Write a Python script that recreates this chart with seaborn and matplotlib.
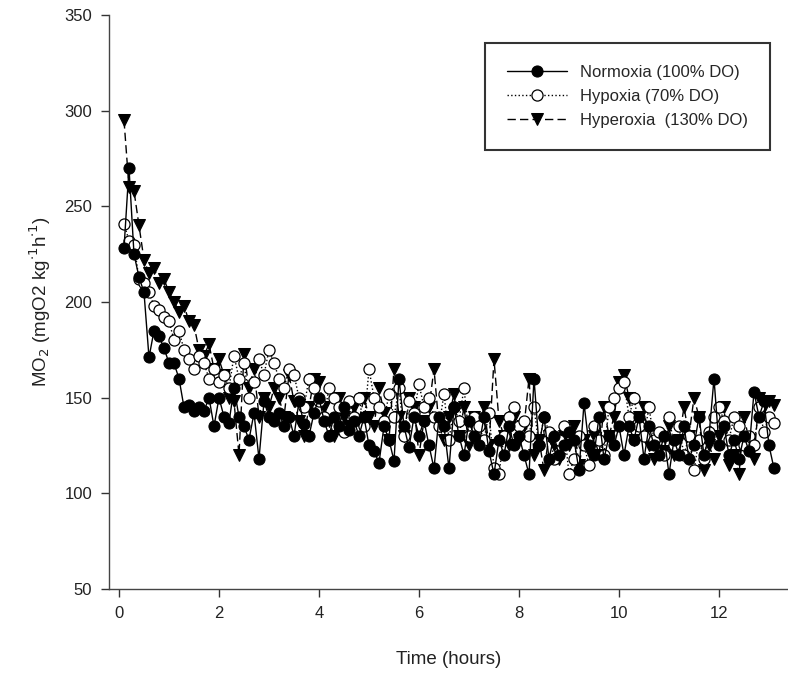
import matplotlib
matplotlib.use("Agg")
import matplotlib.pyplot as plt
import seaborn as sns
import pandas as pd

time_h = [0.1, 0.2, 0.3, 0.4, 0.5, 0.6, 0.7, 0.8, 0.9, 1.0,
          1.1, 1.2, 1.3, 1.4, 1.5, 1.6, 1.7, 1.8, 1.9, 2.0,
          2.1, 2.2, 2.3, 2.4, 2.5, 2.6, 2.7, 2.8, 2.9, 3.0,
          3.1, 3.2, 3.3, 3.4, 3.5, 3.6, 3.7, 3.8, 3.9, 4.0,
          4.1, 4.2, 4.3, 4.4, 4.5, 4.6, 4.7, 4.8, 4.9, 5.0,
          5.1, 5.2, 5.3, 5.4, 5.5, 5.6, 5.7, 5.8, 5.9, 6.0,
          6.1, 6.2, 6.3, 6.4, 6.5, 6.6, 6.7, 6.8, 6.9, 7.0,
          7.1, 7.2, 7.3, 7.4, 7.5, 7.6, 7.7, 7.8, 7.9, 8.0,
          8.1, 8.2, 8.3, 8.4, 8.5, 8.6, 8.7, 8.8, 8.9, 9.0,
          9.1, 9.2, 9.3, 9.4, 9.5, 9.6, 9.7, 9.8, 9.9, 10.0,
          10.1, 10.2, 10.3, 10.4, 10.5, 10.6, 10.7, 10.8, 10.9, 11.0,
          11.1, 11.2, 11.3, 11.4, 11.5, 11.6, 11.7, 11.8, 11.9, 12.0,
          12.1, 12.2, 12.3, 12.4, 12.5, 12.6, 12.7, 12.8, 12.9, 13.0,
          13.1]

normoxia = [228, 270, 225, 213, 205, 171, 185, 182, 176, 168,
            168, 160, 145, 146, 143, 145, 143, 150, 135, 150,
            140, 137, 155, 140, 135, 128, 142, 118, 148, 140,
            138, 142, 135, 140, 130, 148, 136, 130, 142, 150,
            138, 130, 140, 135, 145, 133, 138, 130, 140, 125,
            122, 116, 135, 128, 117, 160, 135, 124, 140, 130,
            138, 125, 113, 140, 135, 113, 145, 130, 120, 138,
            130, 125, 140, 122, 110, 128, 120, 135, 125, 130,
            120, 110, 160, 125, 140, 118, 130, 120, 125, 132,
            128, 112, 147, 125, 120, 140, 118, 130, 125, 135,
            120, 135, 128, 140, 118, 135, 125, 120, 130, 110,
            128, 120, 135, 118, 125, 140, 120, 130, 160, 125,
            135, 120, 128, 118, 130, 122, 153, 140, 148, 125,
            113]

hypoxia = [241, 232, 230, 212, 210, 205, 198, 196, 192, 190,
           180, 185, 175, 170, 165, 172, 168, 160, 165, 158,
           162, 155, 172, 160, 168, 150, 158, 170, 162, 175,
           168, 160, 155, 165, 162, 150, 145, 160, 155, 148,
           140, 155, 150, 145, 132, 148, 140, 150, 135, 165,
           150, 145, 138, 152, 140, 155, 130, 148, 142, 157,
           145, 150, 140, 135, 152, 128, 145, 138, 155, 130,
           140, 135, 128, 142, 113, 110, 130, 140, 145, 135,
           138, 130, 145, 125, 140, 132, 118, 128, 135, 110,
           118, 130, 125, 115, 135, 128, 120, 145, 150, 155,
           158, 140, 150, 135, 130, 145, 128, 132, 120, 140,
           125, 135, 120, 130, 112, 128, 118, 132, 140, 145,
           138, 128, 140, 135, 125, 130, 125, 145, 132, 140,
           137]

hyperoxia = [295, 260, 258, 240, 222, 215, 218, 210, 212, 205,
             200, 195, 198, 190, 188, 175, 172, 178, 165, 170,
             162, 150, 148, 120, 173, 155, 165, 140, 150, 145,
             155, 150, 140, 162, 148, 138, 130, 145, 160, 158,
             145, 138, 130, 150, 140, 135, 145, 138, 150, 140,
             135, 155, 142, 128, 165, 140, 130, 150, 145, 120,
             138, 145, 165, 135, 128, 140, 152, 130, 145, 125,
             140, 135, 145, 125, 170, 138, 130, 125, 140, 128,
             135, 160, 120, 128, 112, 130, 125, 118, 130, 125,
             135, 115, 128, 122, 130, 120, 145, 130, 140, 158,
             162, 150, 128, 140, 145, 125, 118, 130, 122, 135,
             120, 128, 145, 130, 150, 140, 112, 125, 118, 130,
             145, 115, 120, 110, 140, 128, 118, 150, 145, 148,
             146]

labels = ["Normoxia (100% DO)", "Hypoxia (70% DO)", "Hyperoxia  (130% DO)"]
x_ticks = [0, 2, 4, 6, 8, 10, 12]
y_ticks = [50, 100, 150, 200, 250, 300, 350]

sns.set_style("ticks")
plt.rcParams['font.family'] = ['Liberation Sans', 'DejaVu Sans']

fig = plt.figure(figsize=(7.88, 6.86), dpi=100)
ax = fig.add_axes([109/788, 1 - 589/686, 1 - 109/788, (589 - 15)/686])

df_n = pd.DataFrame({"t": time_h, "v": normoxia})
df_h = pd.DataFrame({"t": time_h, "v": hypoxia})
df_v = pd.DataFrame({"t": time_h, "v": hyperoxia})

sns.lineplot(data=df_v, x="t", y="v", ax=ax, color="black", linewidth=1.0,
             linestyle=(0, (6, 3)), marker="v", markersize=8,
             markerfacecolor="black", markeredgecolor="black", zorder=2,
             label=labels[2])
sns.lineplot(data=df_h, x="t", y="v", ax=ax, color="black", linewidth=1.0,
             linestyle=":", marker="o", markersize=8,
             markerfacecolor="white", markeredgecolor="black",
             markeredgewidth=0.9, zorder=3, label=labels[1])
sns.lineplot(data=df_n, x="t", y="v", ax=ax, color="black", linewidth=1.0,
             linestyle="-", marker="o", markersize=8,
             markerfacecolor="black", markeredgecolor="black", zorder=4,
             label=labels[0])

ax.set_xlim(-0.2, 13.38)
ax.set_ylim(50, 350)
ax.set_xticks(x_ticks)
ax.set_yticks(y_ticks)
ax.tick_params(direction="out", length=6, width=1, colors="#333333",
               labelsize=12, labelcolor="#222222", pad=6)
for s in ["top", "right"]:
    ax.spines[s].set_visible(False)
for s in ["left", "bottom"]:
    ax.spines[s].set_color("#444444")
    ax.spines[s].set_linewidth(1.0)

ax.set_xlabel("Time (hours)", fontsize=13.5, color="#222222", labelpad=22)
ax.set_ylabel(r"MO$_2$ (mgO2 kg$^{\cdot1}$h$^{\cdot1}$)", fontsize=13.5,
              color="#222222", labelpad=8)

handles, labs = ax.get_legend_handles_labels()
order = [labs.index(l) for l in labels]
leg = ax.legend([handles[i] for i in order], [labs[i] for i in order],
                loc="upper right", bbox_to_anchor=(0.973, 0.951),
                fontsize=12, frameon=True, fancybox=False,
                handlelength=3.6, handletextpad=0.8, borderpad=1.3,
                labelspacing=0.55, borderaxespad=0)
leg.get_frame().set_edgecolor("black")
leg.get_frame().set_linewidth(1.5)
for h in leg.legend_handles:
    h.set_markersize(8)

fig.savefig("out.png", dpi=100)
